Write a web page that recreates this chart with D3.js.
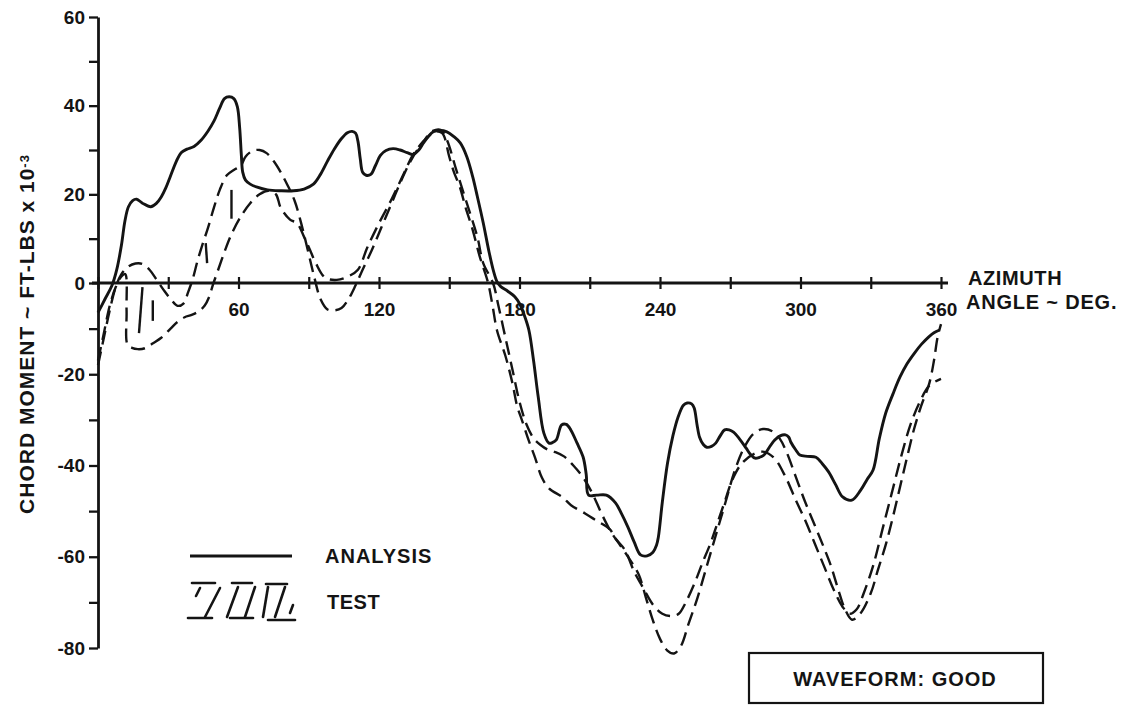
<!DOCTYPE html>
<html>
<head>
<meta charset="utf-8">
<script src="https://cdn.jsdelivr.net/npm/d3@7"></script>
<style>
  body { margin: 0; background: #fff; }
  svg text { font-family: "Liberation Sans", Arial, sans-serif; font-weight: bold; fill: #141414; }
</style>
</head>
<body>
<div id="chart"></div>
<script>
// azimuth (deg) , chord moment (ft-lbs x 10^-3)
var analysis = [
  [0,-6.5],[3,-3.5],[6,-0.5],[8,3],[10,8.5],[11.5,14],[13,17.2],[14.8,18.6],[16.5,18.9],[19,18],[22.5,17.2],
  [25,18],[27,19.4],[29,21.5],[31,24.2],[33.5,27.5],[35.5,29.4],[38,30.2],[41,30.8],[44,32.2],[47,34.3],
  [49.5,36.5],[52,39.5],[54,41.6],[56,42],[58,41.6],[59.5,39.8],[60.5,35],[61.2,29],[61.8,25],[63,23.2],
  [65,22.3],[68,21.6],[72.4,21],[78,20.8],[83.5,20.8],[88,21.2],[92,22.3],[95,24.5],[98,27.5],[101,30.3],
  [104,32.6],[106.5,33.9],[108.5,34.2],[110,33.8],[111,32],[112,28],[113,25],[114.5,24.3],[116.5,24.5],
  [118.5,26.5],[120.6,28.8],[123,29.9],[126,30.3],[129,30],[132,29.4],[134.6,29],[137,30],[139,31.6],
  [141,33],[143.2,34.1],[146,34.4],[149,34.1],[152,33],[154.7,31.6],[157.5,28.5],[160,24],[162,19.5],
  [164.5,13.6],[167,7],[169,2.5],[170.4,0.3],[172,-0.8],[175,-1.8],[178,-3],[180,-4.5],[182,-7],[184,-10.3],
  [186,-17],[188,-25],[190.4,-32.9],[192.6,-35.1],[194,-35],[195.7,-34.4],[198,-31.1],[200,-31],[201.9,-32.2],
  [204.5,-35],[207.2,-38.2],[208.5,-42],[209.5,-46.5],[213,-46.5],[217.1,-46.5],[221,-48.2],[223.5,-50.5],
  [226.3,-53.5],[229,-56.8],[231.7,-59.6],[234.5,-59.8],[237,-59],[238.5,-57.5],[239.3,-55.7],[241,-48],
  [243.2,-39.5],[245.5,-33.5],[247.7,-29.4],[250,-26.8],[251.6,-26.3],[253.5,-26.5],[254.6,-27.4],[255.8,-31],
  [256.9,-33.8],[258.5,-35.4],[260,-36],[262,-35.8],[263.8,-35.1],[265.7,-33.5],[267.6,-32.2],[269.5,-32.2],
  [271.4,-32.7],[274,-34.2],[276.8,-36.2],[278.7,-37.6],[280.6,-38.4],[282.5,-38.2],[284.4,-37.7],[286.7,-36],
  [289,-34.4],[291.3,-33.5],[293.6,-33.3],[295,-33.8],[295.9,-34.9],[298,-36.6],[299.7,-37.7],[303,-38],
  [306.6,-38.2],[309.3,-39.6],[312,-41.4],[315,-44.2],[318,-46.9],[321.9,-47.6],[325.7,-45.4],[328.5,-43],
  [331,-41],[333.7,-34],[336.4,-28.5],[339.5,-24.3],[342.5,-20.6],[345.5,-17.7],[348.6,-15.4],[351.7,-13.4],
  [354.8,-11.8],[357,-10.9],[359.4,-10.3]
];

var testA = [
  [0,-18],[2.5,-12],[5,-6],[7.5,-1],[10,2],[13,3.7],[16,4.4],[19,4.3],[22,3],[25,0.8],[28,-1.5],[31,-3.5],
  [34,-5],[36.5,-4.5],[38.5,-2],[40.5,1],[42.5,5],[44.5,8.5],[47,12.5],[49.5,17],[52,21],[55,24.3],[58,25.5],
  [61,26.5],[63,28.5],[66,29.8],[69,30],[72,29.3],[75,27.5],[78,25],[81,22],[84,18.5],[87,13],[90,6.5],
  [92.5,1],[95,-3.5],[98,-5.8],[101,-6],[104,-5.5],[107,-3.5],[110,-0.5],[113,3],[117,7.5],[121,12.5],
  [125,17.5],[129,22.5],[133,27],[137,30.5],[141,33],[144,34.2],[147,33.8],[150,28.5],[152,25],[154.5,21.7],
  [157,17],[160,12],[163,6],[166.6,0],[168.5,-5],[170.4,-10.4],[174,-16],[177,-22],[179,-27],[181,-30],
  [184,-34.6],[186.6,-38.2],[189.6,-42.7],[192.6,-45],[198.5,-47],[202,-48.7],[208,-50.5],[212.6,-52],
  [218.6,-54],[221,-56],[225,-58.5],[229,-63.3],[233,-67],[237,-70.5],[241,-72.5],[245,-73],[248,-72.5],
  [251,-70],[255,-65.5],[258,-61.5],[261.6,-57],[264.6,-52.5],[267.6,-48],[271,-43],[275,-39.5],[280,-37.5],
  [284.5,-37],[289,-38.5],[293.6,-42.5],[298,-47.6],[302,-52],[306,-57],[310,-62],[314,-67],[318,-71],
  [321,-72.5],[324,-71.5],[327,-68],[331,-62],[335,-54],[339,-46],[343,-38],[347,-31],[351,-26],[355,-22.5],
  [360,-21]
];

var testB = [
  [0,-17],[2.5,-11],[5,-5],[7.5,-1],[10,1.5],[11.6,2],[12.2,-6],[12.6,-13.5],[14.5,-14.2],[17,-14.5],
  [20,-14.3],[23.5,-13.2],[27,-12],[31,-10],[34,-8.5],[37,-7.5],[40,-7],[43,-6.2],[45.5,-5],[47.5,-3],
  [49,-0.5],[51,2.5],[54,7],[57,11],[61,15],[65,18],[69,20],[73,20.8],[76,20],[78,17],[82,14.3],[85,13.5],
  [88,10.4],[90.5,7.5],[93,4.5],[97,1.2],[102,0.7],[106.5,1.4],[111,3],[115,8],[120,13.5],[125,18.5],
  [130,24],[134.6,29],[139,32],[143,34.3],[146.5,34.5],[149,32.3],[153,25.5],[157.5,18],[162,10.4],
  [164.5,4.5],[168.7,0],[171,-5],[174,-12],[177,-19],[180,-26],[183,-31],[186,-34],[189,-35.5],[192,-36.5],
  [195,-37],[199,-38],[203,-40],[207,-42.5],[211,-46],[215,-50.5],[219,-54.5],[223,-57.5],[227,-60.5],
  [231,-64],[234,-69],[237,-74],[240,-78],[243,-80.5],[246,-81.2],[249,-79.5],[252,-75],[256,-69],[260,-62],
  [264,-55],[268,-48],[272,-41],[276,-36],[280,-33],[284,-32],[288,-32.5],[291,-34],[294,-37],[298,-42.5],
  [302,-48],[306,-53],[310,-58],[313,-62],[316,-67],[319,-71.5],[322,-73.8],[325.5,-72.5],[330,-68],
  [333,-63],[336.6,-57],[339.6,-51],[342.6,-44.5],[345.6,-38],[348.5,-32],[351.5,-27],[355,-22],[357,-17],
  [358.5,-12],[360,-9]
];

// short loose strokes of the test trace
var testStrokes = [
  [[19,-0.9],[17.5,-11]],
  [[23.4,-3.8],[23.4,-8.3]],
  [[46,9],[46.6,4.5]],
  [[57,21],[57,14.5]]
];

var xTickValues = [0,30,60,90,120,150,180,210,240,270,300,330,360];
var xTickLabels = [60,120,180,240,300,360];
var yTickValues = [-80,-70,-60,-50,-40,-30,-20,-10,0,10,20,30,40,50,60];
var yTickLabels = [-80,-60,-40,-20,0,20,40,60];

var svgWidth = 1131;
var svgHeight = 708;
var ink = "#141414";

var svg = d3.select("#chart")
    .append("svg")
    .attr("width", svgWidth)
    .attr("height", svgHeight);

var xScale = d3.scaleLinear().domain([0, 360]).range([98, 941]);
// scanned figure: the two halves of the y axis are not spaced quite alike
var yScale = d3.scaleLinear().domain([-80, 0, 60]).range([648, 283, 17]);

// y axis
var yAxis = d3.axisLeft(yScale)
    .tickValues(yTickValues)
    .tickSizeInner(9)
    .tickSizeOuter(0)
    .tickPadding(4)
    .tickFormat(function (d) { return yTickLabels.indexOf(d) >= 0 ? d : ""; });

var gy = svg.append("g")
    .attr("transform", "translate(" + xScale(0) + ",0)")
    .call(yAxis);
gy.select(".domain").attr("stroke", ink).attr("stroke-width", 2.8);
gy.selectAll(".tick line").attr("stroke", ink).attr("stroke-width", 2.3);
gy.selectAll(".tick text").style("font-size", "19px").attr("fill", ink);

// x axis, ticks cross the line
var xAxis = d3.axisBottom(xScale)
    .tickValues(xTickValues)
    .tickSizeInner(0)
    .tickSizeOuter(0)
    .tickFormat(function (d) { return xTickLabels.indexOf(d) >= 0 ? d : ""; });

var gx = svg.append("g")
    .attr("transform", "translate(0," + yScale(0) + ")")
    .call(xAxis);
gx.select(".domain").remove();
gx.append("line")
    .attr("x1", xScale(0) - 6).attr("x2", xScale(360) + 7)
    .attr("stroke", ink).attr("stroke-width", 2.8);
gx.selectAll(".tick line")
    .attr("y1", -6).attr("y2", 6)
    .attr("stroke", ink).attr("stroke-width", 2.2);
gx.selectAll(".tick text")
    .attr("y", 20)
    .style("font-size", "19px").attr("fill", ink);

// curves
var line = d3.line()
    .x(function (d) { return xScale(d[0]); })
    .y(function (d) { return yScale(d[1]); })
    .curve(d3.curveCatmullRom.alpha(0.5));

[testA, testB].forEach(function (s) {
    svg.append("path")
        .datum(s)
        .attr("d", line)
        .attr("fill", "none")
        .attr("stroke", ink)
        .attr("stroke-width", 2.4)
        .attr("stroke-dasharray", "14,7");
});

svg.selectAll(".stroke")
    .data(testStrokes)
    .enter()
    .append("path")
    .attr("class", "stroke")
    .attr("d", d3.line().x(function (d) { return xScale(d[0]); }).y(function (d) { return yScale(d[1]); }))
    .attr("stroke", ink)
    .attr("stroke-width", 2.4);

svg.append("path")
    .datum(analysis)
    .attr("d", line)
    .attr("fill", "none")
    .attr("stroke", ink)
    .attr("stroke-width", 2.9);

// axis titles
svg.append("text")
    .attr("x", 968).attr("y", 278).attr("dy", "0.35em")
    .style("font-size", "20px").style("letter-spacing", "0.6px")
    .text("AZIMUTH");
svg.append("text")
    .attr("x", 966).attr("y", 302).attr("dy", "0.35em")
    .style("font-size", "20px").style("letter-spacing", "0.8px")
    .text("ANGLE ~ DEG.");

var yTitle = svg.append("text")
    .attr("transform", "translate(27,334) rotate(-90)")
    .attr("text-anchor", "middle")
    .attr("dy", "0.35em")
    .style("font-size", "21px").style("letter-spacing", "1px");
yTitle.append("tspan").text("CHORD MOMENT ~ FT-LBS x 10");
yTitle.append("tspan").attr("dy", "-0.45em").style("font-size", "13px").text("-3");

// legend
svg.append("line")
    .attr("x1", 190).attr("x2", 292).attr("y1", 556).attr("y2", 556)
    .attr("stroke", ink).attr("stroke-width", 2.9);
svg.append("text")
    .attr("x", 325).attr("y", 556).attr("dy", "0.35em")
    .style("font-size", "20px").style("letter-spacing", "1px")
    .text("ANALYSIS");

var hatch = [
  [[192,583],[215,583]], [[200,588],[196,596]], [[220,588],[205,617]], [[188,618],[212,618]],
  [[232,583],[252,583]], [[238,587],[227,617]], [[255,587],[245,617]], [[230,618],[253,618]],
  [[266,584],[287,584]], [[268,587],[263,617]], [[285,587],[275,617]], [[268,620],[295,620]],
  [[293,605],[290,613]]
];
svg.selectAll(".hatch")
    .data(hatch)
    .enter()
    .append("line")
    .attr("class", "hatch")
    .attr("x1", function (d) { return d[0][0]; })
    .attr("y1", function (d) { return d[0][1]; })
    .attr("x2", function (d) { return d[1][0]; })
    .attr("y2", function (d) { return d[1][1]; })
    .attr("stroke", ink)
    .attr("stroke-width", 2.6)
    .attr("stroke-linecap", "round");
svg.append("text")
    .attr("x", 327).attr("y", 602).attr("dy", "0.35em")
    .style("font-size", "20px").style("letter-spacing", "0.5px")
    .text("TEST");

// waveform box
svg.append("rect")
    .attr("x", 749).attr("y", 653).attr("width", 294).attr("height", 50)
    .attr("fill", "none").attr("stroke", ink).attr("stroke-width", 2.2);
svg.append("text")
    .attr("x", 895).attr("y", 679).attr("dy", "0.35em")
    .attr("text-anchor", "middle")
    .style("font-size", "20px").style("letter-spacing", "1px")
    .text("WAVEFORM: GOOD");
</script>
</body>
</html>
